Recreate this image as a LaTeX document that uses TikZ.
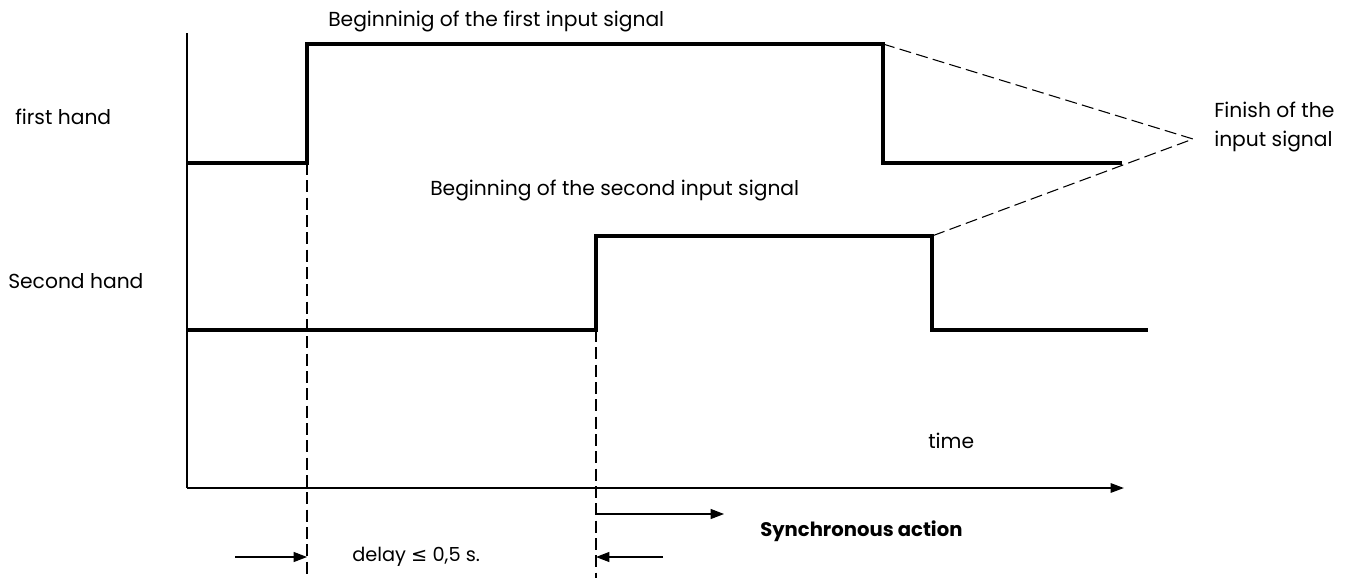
\documentclass[tikz,border=0pt]{standalone}
\usepackage{fontspec}
\setmainfont{Poppins}
\newfontfamily\symfont{DejaVu Sans}
\usetikzlibrary{arrows.meta}
\begin{document}
\begin{tikzpicture}[x=0.75pt,y=-0.75pt,
  sig/.style={line width=2.3pt,line join=miter},
  axis/.style={line width=1.4pt},
  guide/.style={line width=0.8pt,dash pattern=on 9pt off 4pt},
  lbl/.style={font=\fontsize{15.2}{17}\selectfont,inner sep=0pt},
  arr/.style={line width=0.8pt,-{Triangle[length=10pt,width=7.5pt]}}]
\useasboundingbox (0,0) rectangle (1349,578);
% axes
\coordinate (O) at (187,488);
\coordinate (Ytop) at (187,33);
\coordinate (Xend) at (1124,488);
\draw[line width=0.8pt] (Ytop) -- (O);
\draw[axis,-{Triangle[length=10pt,width=7pt]}] (O) -- (Xend);
% first hand signal
\coordinate (a0) at (187,163);
\coordinate (a1) at (307,163);
\coordinate (a2) at (307,44);
\coordinate (a3) at (883,44);
\coordinate (a4) at (883,163);
\coordinate (a5) at (1122,163);
\draw[sig] (a0) -- (a1) -- (a2) -- (a3) -- (a4) -- (a5);
% second hand signal
\coordinate (b0) at (187,330);
\coordinate (b1) at (596,330);
\coordinate (b2) at (596,236);
\coordinate (b3) at (932,236);
\coordinate (b4) at (932,330);
\coordinate (b5) at (1148,330);
\draw[sig] (b0) -- (b1) -- (b2) -- (b3) -- (b4) -- (b5);
% guides
\coordinate (g1) at (307,578);
\coordinate (g2) at (596,578);
\draw[guide] (a1) -- (g1);
\draw[guide] (b1) -- (g2);
\coordinate (F) at (1193,139);
\draw[guide] (a3) -- (F) -- (b3);
% labels
\node[lbl,anchor=west] (fh) at (15,117) {first hand};
\node[lbl,anchor=west] (sh) at (8,281) {Second hand};
\node[lbl,anchor=west] (bf) at (328,21) {Beginninig of the first input signal};
\node[lbl,anchor=west] (bs) at (430,190) {Beginning of the second input signal};
\node[lbl,anchor=west,align=left,font=\fontsize{15.2}{22}\selectfont] (fin) at (1214,127) {Finish of the\\input signal};
\node[lbl,anchor=west] (tm) at (928,441) {time};
% synchronous action
\coordinate (s0) at (596,514);
\coordinate (s1) at (724,514);
\draw[arr] (s0) -- (s1);
\node[lbl,anchor=west,font=\fontsize{14.7}{17}\selectfont\bfseries] (sa) at (760,531) {Synchronous action};
% delay
\coordinate (d0) at (235,557);
\coordinate (d1) at (307,557);
\coordinate (d2) at (663,557);
\coordinate (d3) at (596,557);
\draw[arr] (d0) -- (d1);
\draw[arr] (d2) -- (d3);
\node[lbl,anchor=west,font=\fontsize{14.5}{17}\selectfont] (dl) at (352,557) {delay {\symfont ≤} 0,5 s.};
\end{tikzpicture}
\end{document}
